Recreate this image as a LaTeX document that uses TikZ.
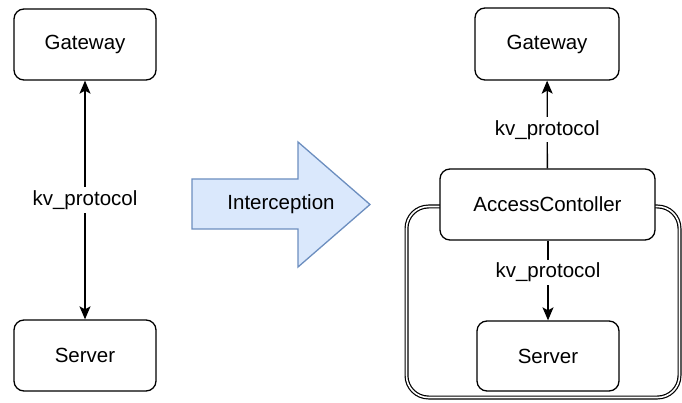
\documentclass[tikz,border=0pt]{standalone}
\usepackage{fontspec}
\setmainfont{Liberation Sans}
\usetikzlibrary{arrows.meta}
\definecolor{arrowfill}{HTML}{DAE8FC}
\definecolor{arrowline}{HTML}{6C8EBF}

\begin{document}
\begin{tikzpicture}[x=1pt,y=-1pt,
        txt/.style={font=\fontsize{20.5}{24}\selectfont},
        box/.style={txt,draw,line width=1.3pt,rounded corners=10pt,fill=white,
            minimum width=142pt,minimum height=71pt},
        lbl/.style={txt,fill=white,inner sep=3pt},
        link/.style={line width=1.3pt,-{Stealth[length=13pt,width=11pt,inset=3pt]}}]
        \useasboundingbox (0,0) rectangle (682,403);
        % before
        \node[box] (gwa) at (85,44.5) {Gateway};
        \node[box] (srva) at (85,355.5) {Server};
        \draw[link,{Stealth[length=13pt,width=11pt,inset=3pt]}-{Stealth[length=13pt,width=11pt,inset=3pt]}]
            (gwa) -- node[lbl] {kv\_protocol} (srva);
        % interception
        \draw[line width=1.3pt,draw=arrowline,fill=arrowfill]
            (192,179) -- (298,179) -- (298,142) -- (370,204.5)
            -- (298,267) -- (298,229) -- (192,229) -- cycle;
        \node[txt] (icp) at (281,204) {Interception};
        % after
        \node[draw,double,line width=1.2pt,double distance=1.6pt,rounded corners=22pt,
            minimum width=273pt,minimum height=191pt] (frame) at (543,302) {};
        \node[box,minimum width=144pt,minimum height=72pt] (gwb) at (547,44) {Gateway};
        \node[box,minimum width=215pt] (ac) at (547.5,204.5) {AccessContoller};
        \node[box,minimum height=70pt] (srvb) at (548,356) {Server};
        \draw[link] (ac) -- node[lbl,pos=0.44] {kv\_protocol} (gwb);
        \draw[link] (ac.south -| srvb) -- node[lbl,pos=0.4] {kv\_protocol} (srvb);
    \end{tikzpicture}
\end{document}
